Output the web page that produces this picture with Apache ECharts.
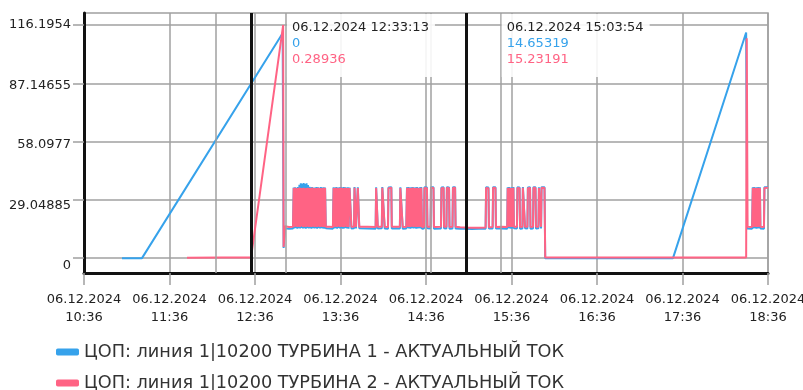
<!DOCTYPE html>
<html>
<head>
<meta charset="utf-8">
<script src="https://cdn.jsdelivr.net/npm/echarts@6/dist/echarts.min.js"></script>
<style>
html, body { margin: 0; padding: 0; background: #ffffff; }
#chart { width: 803px; height: 390px; }
</style>
</head>
<body>
<div id="chart"></div>
<script>
// Turbine current log for 06.12.2024
const dateLabel = '06.12.2024';
const axisStart = '10:36';
const axisSpanMinutes = 480;
const axisStepMinutes = 60;
const yTicks = [0, 29.04885, 58.0977, 87.14655, 116.1954];
const seriesNames = [
  'ЦОП: линия 1|10200 ТУРБИНА 1 - АКТУАЛЬНЫЙ ТОК',
  'ЦОП: линия 1|10200 ТУРБИНА 2 - АКТУАЛЬНЫЙ ТОК'
];

// Sample timestamps shared by both turbines (null = no reading for that turbine)
const times = [
  '11:02:40','11:16:42','11:48:18','12:12:30','12:33:13','12:55:24','12:55:45','12:56:05','12:57:03','12:59:50','13:02:40',
  '13:03:10','13:03:40','13:04:10','13:04:40','13:05:10','13:05:40','13:06:10','13:06:40','13:07:10','13:07:40','13:08:10','13:08:40',
  '13:09:10','13:09:40','13:10:10','13:10:40','13:11:10','13:11:40','13:12:10','13:12:40','13:13:10','13:13:40','13:14:10','13:14:40',
  '13:15:10','13:15:40','13:16:10','13:16:40','13:17:10','13:17:40','13:18:10','13:18:40','13:19:10','13:19:40','13:20:10','13:20:40',
  '13:21:10','13:21:40','13:22:10','13:22:40','13:23:10','13:23:40','13:24:10','13:24:40','13:25:10','13:25:40',
  '13:28:10','13:30:40',
  '13:31:10','13:31:40','13:32:10','13:32:40','13:33:10','13:33:40','13:34:10','13:34:40','13:35:10','13:35:40','13:36:10','13:36:40',
  '13:37:10','13:37:40','13:38:10','13:38:40','13:39:10','13:39:40','13:40:10','13:40:40','13:41:10','13:41:40',
  '13:42:20','13:43:20','13:43:40','13:45:30','13:45:50','13:46:30','13:46:50','13:47:50','13:48:10','13:48:50','13:49:10',
  '13:55:00',
  '14:00:40','14:01:00','14:01:50','14:02:10','14:05:00','14:05:20','14:06:40','14:07:00','14:09:20','14:09:40','14:11:40','14:12:00',
  '14:15:00','14:17:40','14:18:00','14:19:20','14:19:40','14:22:10',
  '14:22:40','14:23:10','14:23:40','14:24:10','14:24:40','14:25:10','14:25:40','14:26:10','14:26:40','14:27:10','14:27:40','14:28:10',
  '14:28:40','14:29:10','14:29:40','14:30:10','14:30:40','14:31:10','14:31:40','14:32:10','14:32:40','14:33:10',
  '14:34:35','14:34:55','14:36:40','14:37:00','14:39:10','14:39:30','14:41:15','14:41:35','14:46:30','14:46:50','14:48:20','14:48:40',
  '14:50:20','14:50:40','14:52:10','14:52:30','14:54:35','14:54:55','14:56:25','14:56:45',
  '15:00:00','15:03:54','15:08:00','15:13:00','15:17:50','15:18:10','15:19:50','15:20:10','15:22:45','15:23:05','15:24:45','15:25:05',
  '15:29:00','15:33:00',
  '15:33:20','15:33:50','15:34:20','15:34:50','15:35:20','15:35:50','15:36:20','15:36:50','15:37:20','15:37:40',
  '15:39:50','15:40:10','15:41:40','15:42:00','15:43:40','15:44:00','15:45:10','15:45:30','15:47:10','15:47:30','15:49:00','15:49:20',
  '15:51:05','15:51:25','15:52:50','15:53:10','15:54:55','15:55:15','15:56:25','15:56:45','15:57:05','15:59:10','15:59:40',
  '16:30:00','17:00:00','17:29:20','18:00:00','18:20:40','18:21:05','18:21:20','18:21:40','18:22:40','18:24:50',
  '18:25:20','18:25:50','18:26:20','18:26:50','18:27:20','18:27:50','18:28:20','18:28:50','18:29:20','18:29:50','18:30:20','18:30:40',
  '18:33:10','18:33:30','18:36:00'
];

// ТУРБИНА 1
const turbine1 = [
  0, 0, null, null, null, 112.1, null, 5.1, 14.9, 14.6, 14.8,
  35.2, 14.8, 35.3, 15.0, 35.1, 14.7, 35.4, 14.9, 36.6, 14.8, 37.3, 15.1,
  37.1, 14.8, 37.4, 14.9, 36.9, 14.7, 37.3, 15.0, 36.5, 14.8, 35.6, 14.9,
  35.3, 14.7, 35.5, 15.0, 35.1, 14.8, 35.2, 14.9, 35.4, 14.7, 35.3, 15.0,
  35.1, 14.8, 35.4, 14.9, 35.2, 14.8, 35.3, 14.7, 35.2, 14.9,
  14.8, 14.7,
  35.3, 14.8, 35.2, 14.9, 35.4, 14.7, 35.1, 15.0, 35.3, 14.8, 35.5, 14.9,
  35.2, 14.7, 35.4, 14.8, 35.3, 15.0, 35.2, 14.8, 35.3, 14.7,
  35.2, 35.3, 14.8, 14.9, 35.4, 35.2, 14.8, 14.7, 35.3, 35.4, 14.9,
  14.8,
  14.7, 35.3, 35.2, 14.8, 14.9, 35.4, 35.3, 14.8, 14.7, 35.2, 35.4, 14.8,
  14.9, 14.8, 35.3, 35.2, 14.7, 14.8,
  35.3, 14.9, 35.4, 14.8, 35.2, 14.7, 35.3, 15.0, 35.5, 14.8, 35.2, 14.9,
  35.3, 14.7, 35.4, 14.8, 35.1, 14.9, 35.3, 14.8, 35.4, 14.7,
  14.8, 35.3, 35.2, 14.9, 14.8, 35.4, 35.3, 14.7, 14.8, 35.2, 35.3, 14.9,
  14.8, 35.4, 35.2, 14.7, 14.8, 35.3, 35.4, 14.8,
  14.7, 14.65319, 14.5, 14.6, 14.7, 35.3, 35.2, 14.8, 14.8, 35.4, 35.3, 14.8,
  14.8, 14.7,
  35.3, 14.9, 35.4, 14.8, 35.2, 14.7, 35.3, 14.8, 35.4, 14.9,
  14.8, 35.3, 35.2, 14.7, 14.8, 35.4, 35.3, 14.9, 14.8, 35.2, 35.3, 14.7,
  14.8, 35.4, 35.3, 14.8, 14.9, 35.3, 35.2, 14.8, 35.4, 35.3, 0,
  0, 0, 0, null, 112.5, null, 14.8, 14.9, 14.9, 14.7,
  35.3, 14.8, 35.4, 14.9, 35.2, 14.7, 35.3, 14.8, 35.4, 14.9, 35.3, 14.8,
  14.7, 35.3, 35.4
];

// ТУРБИНА 2
const turbine2 = [
  null, null, 0.26, 0.31, 0.28936, null, 116.1954, 5.6, 15.9, 15.5, 15.7,
  34.9, 15.6, 35.1, 15.8, 34.8, 15.5, 35.0, 15.7, 35.2, 15.6, 34.9, 15.9,
  35.0, 15.6, 35.1, 15.7, 34.8, 15.5, 35.0, 15.8, 35.1, 15.6, 34.9, 15.7,
  35.0, 15.5, 35.2, 15.8, 34.8, 15.6, 35.0, 15.7, 34.9, 15.5, 35.1, 15.8,
  34.9, 15.6, 35.0, 15.7, 34.8, 15.6, 35.1, 15.5, 34.9, 15.7,
  15.6, 15.5,
  35.0, 15.6, 34.9, 15.7, 35.1, 15.5, 34.8, 15.8, 35.0, 15.6, 35.2, 15.7,
  34.9, 15.5, 35.0, 15.6, 35.1, 15.8, 34.9, 15.6, 35.0, 15.5,
  34.9, 35.0, 15.6, 15.7, 35.1, 34.9, 15.6, 15.5, 35.0, 35.1, 15.7,
  15.6,
  15.5, 35.0, 34.9, 15.6, 15.7, 35.1, 35.0, 15.6, 15.5, 34.9, 35.1, 15.6,
  15.7, 15.6, 35.0, 34.9, 15.5, 15.6,
  35.0, 15.7, 35.1, 15.6, 34.9, 15.5, 35.0, 15.8, 35.2, 15.6, 34.9, 15.7,
  35.0, 15.5, 35.1, 15.6, 34.8, 15.7, 35.0, 15.6, 35.1, 15.5,
  15.6, 35.0, 34.9, 15.7, 15.6, 35.1, 35.0, 15.5, 15.6, 34.9, 35.0, 15.7,
  15.6, 35.1, 34.9, 15.5, 15.6, 35.0, 35.1, 15.6,
  15.4, 15.23191, 15.1, 15.2, 15.3, 35.0, 34.9, 15.4, 15.5, 35.1, 35.0, 15.5,
  15.6, 15.5,
  35.0, 15.7, 35.1, 15.6, 34.9, 15.5, 35.0, 15.6, 35.1, 15.7,
  15.6, 35.0, 34.9, 15.5, 15.6, 35.1, 35.0, 15.7, 15.6, 34.9, 35.0, 15.5,
  15.6, 35.1, 35.0, 15.6, 15.7, 35.0, 34.9, 15.6, 35.1, 35.0, 0.31,
  0.29, 0.3, 0.28, 0.3, 0.29, 109.6, null, 15.6, 15.7, 15.5,
  35.0, 15.6, 35.1, 15.7, 34.9, 15.5, 35.0, 15.6, 35.1, 15.7, 35.0, 15.6,
  15.5, 35.0, 35.1
];

// Cursor readouts
const cursorTimes = ['12:33:13', '15:03:54'];
const cursorTurbine1 = ['0', '14.65319'];
const cursorTurbine2 = ['0.28936', '15.23191'];
const cursorWindowMinutes = 24.5;

const colors = ['#36a2eb', '#ff6384'];
const gridGray = '#a0a0a0';
const font = 'DejaVu Sans';

function clockMinutes(t) {
  const p = t.split(':').map(Number);
  return p[0] * 60 + p[1] + (p[2] || 0) / 60;
}
const startMinutes = clockMinutes(axisStart);
const toAxis = t => clockMinutes(t) - startMinutes;
const pad = n => (n < 10 ? '0' : '') + n;

const yMin = -7.4;
const yMax = 122.2;

// y labels drift slightly downward toward the bottom of the axis
const yLabelRich = {};
yTicks.forEach((v, k) => {
  const drop = (yTicks.length - 1 - k) * 1.75;
  yLabelRich['t' + k] = { padding: [Math.round(drop * 2), 0, 0, 0] };
});

const chart = echarts.init(document.getElementById('chart'), null, { renderer: 'canvas' });

const cursorLines = [];
cursorTimes.forEach(t => {
  const c = toAxis(t);
  cursorLines.push({ xAxis: c - cursorWindowMinutes, lineStyle: { color: gridGray, width: 1.5, type: 'solid' } });
  cursorLines.push({ xAxis: c + cursorWindowMinutes, lineStyle: { color: gridGray, width: 1.5, type: 'solid' } });
  cursorLines.push({ xAxis: c, lineStyle: { color: '#111111', width: 3, type: 'solid' } });
});

const legendBase = {
  orient: 'horizontal', left: 56, padding: 0,
  itemWidth: 23, itemHeight: 7,
  icon: 'roundRect',
  textStyle: { fontFamily: font, fontSize: 17.7, color: '#333333' }
};

const option = {
  animation: false,
  backgroundColor: '#ffffff',
  grid: {
    left: 84, right: 35, top: 13, bottom: 117,
    show: true, borderColor: gridGray, borderWidth: 1.5,
    containLabel: false, outerBoundsMode: 'none'
  },
  legend: [
    Object.assign({}, legendBase, { top: 343, data: [seriesNames[0]] }),
    Object.assign({}, legendBase, { top: 374, data: [seriesNames[1]] })
  ],
  xAxis: {
    type: 'value',
    min: 0, max: axisSpanMinutes, interval: axisStepMinutes,
    axisLine: { show: true, onZero: false, lineStyle: { color: '#111111', width: 3 } },
    axisTick: { show: true, length: 12, lineStyle: { color: gridGray, width: 1.5 } },
    axisLabel: {
      fontFamily: font, fontSize: 13, color: '#222222', lineHeight: 18, margin: 18,
      formatter: v => {
        const m = Math.round(startMinutes + v);
        return dateLabel + '\n' + Math.floor(m / 60) + ':' + pad(m % 60);
      }
    },
    splitLine: { show: true, lineStyle: { color: gridGray, width: 1.5 } }
  },
  yAxis: {
    type: 'value',
    min: yMin, max: yMax,
    axisLine: { show: true, lineStyle: { color: '#111111', width: 3 } },
    axisTick: { show: true, length: 11, customValues: yTicks, lineStyle: { color: gridGray, width: 1.5 } },
    axisLabel: {
      customValues: yTicks, fontFamily: font, fontSize: 13, color: '#222222', margin: 13,
      formatter: v => {
        const k = yTicks.indexOf(v);
        return k >= 0 ? '{t' + k + '|' + v + '}' : String(v);
      },
      rich: yLabelRich
    },
    splitLine: { show: true, lineStyle: { color: gridGray, width: 1.5 } }
  },
  series: [
    {
      name: 'cursors', type: 'line', data: [], z: 1, silent: true,
      markLine: { silent: true, symbol: ['none', 'none'], label: { show: false }, animation: false, data: cursorLines }
    },
    {
      name: seriesNames[0], type: 'line', z: 3,
      data: times.map((t, i) => [toAxis(t), turbine1[i]]),
      connectNulls: true, symbol: 'none', showSymbol: false,
      color: colors[0], lineStyle: { color: colors[0], width: 2 }
    },
    {
      name: seriesNames[1], type: 'line', z: 4,
      data: times.map((t, i) => [toAxis(t), turbine2[i]]),
      connectNulls: true, symbol: 'none', showSymbol: false,
      color: colors[1], lineStyle: { color: colors[1], width: 2 }
    }
  ]
};
chart.setOption(option);

// Readout boxes beside each cursor, placed through the grid's own scales
const graphics = [];
const topPx = chart.convertToPixel({ gridIndex: 0 }, [0, yMax])[1];
cursorTimes.forEach((t, i) => {
  const edge = chart.convertToPixel({ gridIndex: 0 }, [toAxis(t) + cursorWindowMinutes, 0])[0];
  graphics.push({
    type: 'rect', silent: true, z: 100,
    shape: { x: edge + 1, y: topPx + 1, width: 148, height: 63 },
    style: { fill: 'rgba(255,255,255,0.88)' }
  });
  const lines = [
    [dateLabel + ' ' + t, '#222222'],
    [cursorTurbine1[i], colors[0]],
    [cursorTurbine2[i], colors[1]]
  ];
  lines.forEach((ln, k) => {
    graphics.push({
      type: 'text', silent: true, z: 101,
      x: edge + 6, y: topPx + 15 + k * 16,
      style: { text: ln[0], fill: ln[1], font: '13px "' + font + '"', verticalAlign: 'middle', align: 'left' }
    });
  });
});
chart.setOption({ graphic: graphics });
</script>
</body>
</html>
